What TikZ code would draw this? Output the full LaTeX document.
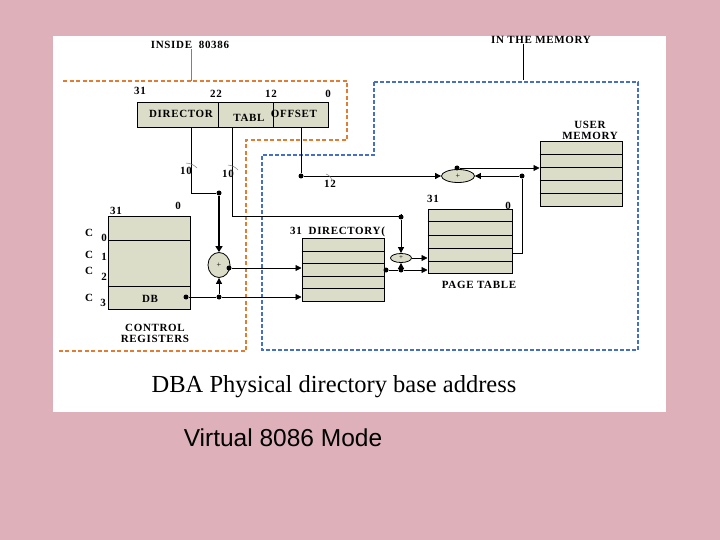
\documentclass[tikz,border=0pt]{standalone}
\usepackage{fontspec}
\setmainfont{Liberation Serif}
\newfontfamily\lblfont[LetterSpace=6]{Liberation Serif}
\newfontfamily\arialfont{Liberation Sans}
\usetikzlibrary{arrows.meta,shapes.geometric}
\definecolor{bgpink}{RGB}{222,176,186}
\definecolor{boxfill}{RGB}{220,221,200}
\definecolor{orangeline}{RGB}{226,124,48}
\definecolor{blueline}{RGB}{70,112,196}
\begin{document}
\begin{tikzpicture}[x=1pt,y=-1pt,
  lbl/.style={font=\lblfont\bfseries\fontsize{11}{11}\selectfont, inner sep=0pt},
  membox/.style={draw, fill=boxfill, line width=1pt, inner sep=0pt},
  regbox/.style={draw, fill=boxfill, line width=1pt, inner sep=0pt, minimum height=25pt},
  dotn/.style={circle, fill=black, inner sep=0pt, minimum size=5pt},
  wire/.style={line width=0.8pt},
  arr/.style={wire, -{Triangle[length=6pt,width=6pt]}},
  tick/.style={gray, line width=0.5pt},
  orangedash/.style={orangeline, line width=1.6pt, dash pattern=on 4pt off 2.5pt},
  bluedash/.style={blueline, line width=1.3pt, dash pattern=on 4pt off 2pt}]
\useasboundingbox (0,0) rectangle (720,540);
\fill[bgpink] (0,0) rectangle (720,540);
\fill[white] (53,36) rectangle (666,412);

% regions
\draw[orangedash] (63,81) -- (347,81) -- (347,140) -- (246,140) -- (246,351) -- (58,351);
\draw[bluedash] (374,82) -- (638,82) -- (638,350) -- (262,350) -- (262,155) -- (374,155) -- cycle;

% headings
\node[lbl] (inside) at (190,45) {INSIDE\ \ 80386};
\node[lbl] (inmem) at (541,40) {IN THE MEMORY};
\coordinate (insideL) at (191,81);
\coordinate (inmemL) at (523,80);
\draw[gray, line width=0.6pt] (inside.south -| insideL) -- (insideL);
\draw[line width=0.6pt] (inmem.south -| inmemL) -- (inmemL);

% linear address register
\node[regbox, minimum width=81pt] (dirf) at (177.5,115.5) {};
\node[regbox, minimum width=55pt] (tabf) at (245.5,115.5) {};
\node[regbox, minimum width=55pt] (offf) at (300.5,115.5) {};
\node[lbl] (dirt) at (181,114) {DIRECTOR};
\node[lbl] (tabt) at (249,118) {TABL};
\node[lbl] (offt) at (294,114) {OFFSET};
\node[lbl] (n31a) at (140,91) {31};
\node[lbl] (n22) at (216,94) {22};
\node[lbl] (n12) at (271,94) {12};
\node[lbl] (n0a) at (328,94) {0};

% control registers
\node[membox, minimum width=82pt, minimum height=92pt] (cr) at (149,263) {};
\draw[line width=1pt] (cr.west |- 0,240) -- (cr.east |- 0,240);
\draw[line width=1pt] (cr.west |- 0,286) -- (cr.east |- 0,286);
\node[lbl] (cr31) at (116,211) {31};
\node[lbl] (cr0) at (178,206) {0};
\node[lbl] (c0) at (89,233) {C};  \node[lbl] (c0s) at (104,238) {0};
\node[lbl] (c1) at (89,255) {C};  \node[lbl] (c1s) at (104,257) {1};
\node[lbl] (c2) at (89,271) {C};  \node[lbl] (c2s) at (104,277) {2};
\node[lbl] (c3) at (89,298) {C};  \node[lbl] (c3s) at (103,303) {3};
\node[lbl] (db) at (150,299) {DB};
\node[lbl, align=center] (crt) at (155,333) {CONTROL\\REGISTERS};

% directory
\node[membox, minimum width=82pt, minimum height=63pt] (dir) at (343,269.5) {};
\foreach \yy in {251,263,276,288} \draw[line width=1pt] (dir.west |- 0,\yy) -- (dir.east |- 0,\yy);
\node[lbl, anchor=west] (dirlab) at (290,232) {31\ \ DIRECTORY(};

% page table
\node[membox, minimum width=84pt, minimum height=63pt] (pt) at (470,241.5) {};
\foreach \yy in {222,235,248,261} \draw[line width=1pt] (pt.west |- 0,\yy) -- (pt.east |- 0,\yy);
\node[lbl] (pt31) at (433,199) {31};
\node[lbl] (pt0) at (508,206) {0};
\node[lbl] (ptt) at (479,285) {PAGE TABLE};

% user memory
\node[membox, minimum width=82pt, minimum height=65pt] (um) at (581,174.5) {};
\foreach \yy in {155,168,181,194} \draw[line width=1pt] (um.west |- 0,\yy) -- (um.east |- 0,\yy);
\node[lbl, align=center] (umt) at (590,130) {USER\\MEMORY};

% adders
\node[ellipse, draw, fill=boxfill, line width=0.8pt, minimum width=33pt, minimum height=13pt, inner sep=0pt, font=\fontsize{8}{8}\selectfont] (add1) at (458,176) {+};
\node[ellipse, draw, fill=boxfill, line width=0.8pt, minimum width=22pt, minimum height=25pt, inner sep=0pt, font=\fontsize{8}{8}\selectfont] (add2) at (219,265) {+};
\node[ellipse, draw, fill=boxfill, line width=0.8pt, minimum width=21pt, minimum height=9pt, inner sep=0pt, font=\fontsize{7}{7}\selectfont] (add3) at (401,258) {+};

% dots
\node[dotn] (d1) at (219,193) {};
\node[dotn] (d2) at (301,176) {};
\node[dotn] (d3) at (401,217) {};
\node[dotn] (d4) at (522,176) {};
\node[dotn] (d5) at (457,168) {};
\node[dotn] (d6) at (229,268) {};
\node[dotn] (d7) at (186,297) {};
\node[dotn] (d8) at (219,297) {};
\node[dotn] (d9) at (386,270) {};
\node[dotn] (d10) at (401,270) {};

% bends
\coordinate (dirdown) at (191,128);
\coordinate (tabdown) at (232,128);
\coordinate (tabbend) at (232,216);
\coordinate (ptout) at (512,253);

% DIRECTOR field
\draw[wire] (dirdown) |- (d1);
\draw[line width=1.8pt, -{Triangle[length=6pt,width=7pt]}] (d1) -- (add2.north);
% TABLE field
\draw[wire] (tabdown) -- (tabbend) -- (tabbend -| d3) -- (d3);
\draw[arr] (d3) -- (add3.north);
% OFFSET field
\draw[wire] (offf.south -| d2) -- (d2);
\draw[arr] (d2) -- (add1.west);
\draw[arr] (d4) -- (add1.east);
\draw[arr] (d5) -- (um.west |- d5);
\draw[wire] (ptout) -| (d4);

% adder 2
\draw[arr] (d6) -- (dir.west |- d6);
\draw[wire] (d7) -- (d8);
\draw[arr] (d8) -- (dir.west |- d8);
\draw[arr] (d8) -- (add2.south);

% adder 3
\draw[arr] (add3.east) -- (pt.west |- add3.east);
\draw[wire] (d9) -- (d10);
\draw[arr] (d10) -- (pt.west |- d10);
\draw[arr] (d10) -- (add3.south);

% bus width labels
\node[lbl] (w10a) at (186,171) {10};
\node[lbl] (w10b) at (228,174) {10};
\node[lbl] (w12) at (330,184) {12};
\draw[tick] (186,163) to[bend left=20] (197,168);
\draw[tick] (228,165) to[bend left=20] (238,170);
\draw[tick] (326,174) to[bend left=30] (332,181);

% captions
\node[font=\fontsize{24.5}{28}\selectfont, inner sep=0pt] (dba) at (334,387) {DBA Physical directory base address};
\node[font=\arialfont\fontsize{24.5}{28}\selectfont, inner sep=0pt] (title) at (283,438) {Virtual 8086 Mode};
\end{tikzpicture}
\end{document}
